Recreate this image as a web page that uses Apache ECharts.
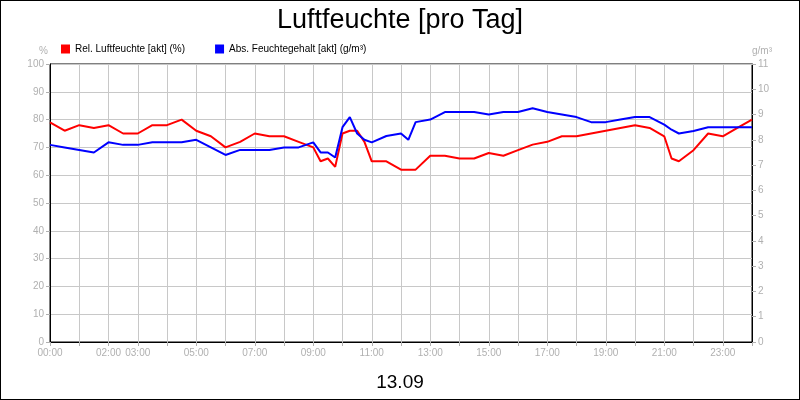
<!DOCTYPE html>
<html>
<head>
<meta charset="utf-8">
<script src="https://cdn.jsdelivr.net/npm/echarts@6/dist/echarts.min.js"></script>
<style>
  html, body { margin: 0; padding: 0; background: #fff; }
  #chart { width: 798px; height: 398px; border: 1px solid #000; }
</style>
</head>
<body>
<div id="chart"></div>
<script>
// hours of day
var hours = [0, 0.5, 1, 1.5, 2, 2.5, 3, 3.5, 4, 4.5, 5, 5.5, 6, 6.5, 7, 7.5, 8, 8.5, 9, 9.25, 9.5, 9.75,
  10, 10.25, 10.5, 10.75, 11, 11.5, 12, 12.25, 12.5, 13, 13.5, 14, 14.5, 15, 15.5, 16, 16.5, 17, 17.5,
  18, 18.5, 19, 19.5, 20, 20.5, 21, 21.25, 21.5, 22, 22.5, 23, 23.5, 24];
// relative humidity (%)
var relHum = [79, 76, 78, 77, 78, 75, 75, 78, 78, 80, 76, 74, 70, 72, 75, 74, 74, 72, 70, 65, 66, 63,
  75, 76, 76, 72, 65, 65, 62, 62, 62, 67, 67, 66, 66, 68, 67, 69, 71, 72, 74,
  74, 75, 76, 77, 78, 77, 74, 66, 65, 69, 75, 74, 77, 80];
// absolute humidity (g/m³)
var absHum = [7.8, 7.7, 7.6, 7.5, 7.9, 7.8, 7.8, 7.9, 7.9, 7.9, 8.0, 7.7, 7.4, 7.6, 7.6, 7.6, 7.7, 7.7, 7.9, 7.5, 7.5, 7.3,
  8.5, 8.9, 8.25, 8.0, 7.9, 8.15, 8.25, 8.0, 8.7, 8.8, 9.1, 9.1, 9.1, 9.0, 9.1, 9.1, 9.25, 9.1, 9.0,
  8.9, 8.7, 8.7, 8.8, 8.9, 8.9, 8.6, 8.4, 8.25, 8.35, 8.5, 8.5, 8.5, 8.5];
var shownHours = [0, 2, 3, 5, 7, 9, 11, 13, 15, 17, 19, 21, 23];

var relData = hours.map(function (h, i) { return [h, relHum[i]]; });
var absData = hours.map(function (h, i) { return [h, absHum[i]]; });

var myChart = echarts.init(document.getElementById('chart'), null, { renderer: 'canvas' });
var fontFam = 'Liberation Sans, Arial, sans-serif';
var grey = '#b0b0b0';

var option = {
  animation: false,
  textStyle: { fontFamily: fontFam },
  title: [
    { text: 'Luftfeuchte [pro Tag]', left: 'center', top: 1,
      textStyle: { fontSize: 27, fontWeight: 'normal', color: '#000', fontFamily: fontFam } },
    { text: '13.09', left: 'center', top: 367,
      textStyle: { fontSize: 19, fontWeight: 'normal', color: '#000', fontFamily: fontFam } }
  ],
  legend: {
    left: 55, top: 38, itemWidth: 9, itemHeight: 9, itemGap: 30, icon: 'rect',
    textStyle: { fontSize: 10, color: '#000', fontFamily: fontFam },
    data: ['Rel. Luftfeuchte [akt] (%)', 'Abs. Feuchtegehalt [akt] (g/m³)']
  },
  grid: { left: 49, right: 47, top: 63, bottom: 57, show: true, borderColor: '#000', borderWidth: 1 },
  xAxis: {
    type: 'value', min: 0, max: 24, interval: 1,
    axisLine: { lineStyle: { color: '#000' } },
    axisTick: { show: true, length: 4, lineStyle: { color: grey } },
    axisLabel: {
      color: grey, fontSize: 10, margin: 6,
      formatter: function (v) {
        return shownHours.indexOf(v) >= 0 ? (v < 10 ? '0' + v : v) + ':00' : '';
      }
    },
    splitLine: { show: true, lineStyle: { color: '#c8c8c8' } }
  },
  yAxis: [
    {
      type: 'value', min: 0, max: 100, interval: 10, name: '%', nameGap: 8,
      nameTextStyle: { color: grey, fontSize: 10, align: 'right', padding: [0, 2, 0, 0] },
      axisLine: { show: true, lineStyle: { color: '#000' } },
      axisTick: { show: true, length: 4, lineStyle: { color: grey } },
      axisLabel: { color: grey, fontSize: 10, margin: 6 },
      splitLine: { show: true, lineStyle: { color: '#c8c8c8' } }
    },
    {
      type: 'value', min: 0, max: 11, interval: 1, name: 'g/m³', nameGap: 8,
      nameTextStyle: { color: grey, fontSize: 10, align: 'left' },
      axisLine: { show: true, lineStyle: { color: '#000' } },
      axisTick: { show: true, length: 4, lineStyle: { color: grey } },
      axisLabel: { color: grey, fontSize: 10, margin: 6 },
      splitLine: { show: false }
    }
  ],
  series: [
    {
      name: 'Rel. Luftfeuchte [akt] (%)', type: 'line', yAxisIndex: 0, showSymbol: false,
      data: relData, lineStyle: { width: 2, color: '#ff0000' }, itemStyle: { color: '#ff0000' }
    },
    {
      name: 'Abs. Feuchtegehalt [akt] (g/m³)', type: 'line', yAxisIndex: 1, showSymbol: false,
      data: absData, lineStyle: { width: 2, color: '#0000ff' }, itemStyle: { color: '#0000ff' }
    }
  ]
};

myChart.setOption(option);
window.addEventListener('resize', myChart.resize);
</script>
</body>
</html>
